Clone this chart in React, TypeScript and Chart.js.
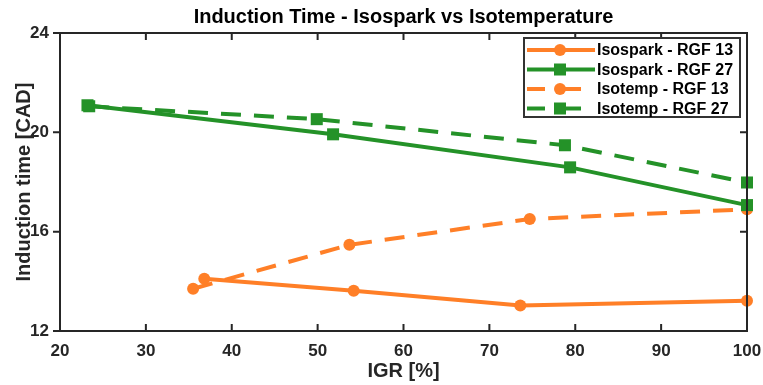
import React, { useEffect, useRef } from "react";
import { Chart, registerables } from "chart.js";

Chart.register(...registerables);

// IGR [%] and induction time [CAD] for each configuration
const isosparkRgf13X = [36.8, 54.2, 73.6, 100];
const isosparkRgf13Y = [14.1, 13.62, 13.03, 13.22];

const isosparkRgf27X = [23.2, 51.8, 79.4, 100];
const isosparkRgf27Y = [21.09, 19.92, 18.59, 17.07];

const isotempRgf13X = [35.5, 53.7, 74.7, 100];
const isotempRgf13Y = [13.7, 15.47, 16.51, 16.9];

const isotempRgf27X = [23.4, 49.9, 78.8, 100];
const isotempRgf27Y = [21.05, 20.53, 19.48, 17.98];

const xTicks = [20, 30, 40, 50, 60, 70, 80, 90, 100];
const yTicks = [12, 16, 20, 24];

const seriesLabels = [
  "Isospark - RGF 13",
  "Isospark - RGF 27",
  "Isotemp - RGF 13",
  "Isotemp - RGF 27",
];

const ORANGE = "#FF7F27";
const GREEN = "#249228";
const AXIS = "#262626";
const FONT = "'Liberation Sans', Arial, Helvetica, sans-serif";
const DASH = [20, 13];

const pts = (xs: number[], ys: number[]) => xs.map((x, i) => ({ x, y: ys[i] }));

// Frame, inward ticks, title and legend drawn on top of the plot
const decorPlugin = {
  id: "decor",
  afterDraw(chart: any) {
    const { ctx, chartArea: a, scales } = chart;
    const xs = scales.x;
    const ys = scales.y;
    ctx.save();
    ctx.strokeStyle = AXIS;
    ctx.lineWidth = 2;
    ctx.setLineDash([]);
    ctx.strokeRect(a.left, a.top, a.right - a.left, a.bottom - a.top);

    const tl = 7;
    ctx.beginPath();
    xTicks.forEach((v) => {
      const px = xs.getPixelForValue(v);
      ctx.moveTo(px, a.bottom);
      ctx.lineTo(px, a.bottom - tl);
      ctx.moveTo(px, a.top);
      ctx.lineTo(px, a.top + tl);
    });
    yTicks.forEach((v) => {
      const py = ys.getPixelForValue(v);
      ctx.moveTo(a.left, py);
      ctx.lineTo(a.left - tl, py);
      ctx.moveTo(a.right, py);
      ctx.lineTo(a.right - tl, py);
    });
    ctx.stroke();

    // title
    ctx.fillStyle = "#000";
    ctx.font = `bold 20px ${FONT}`;
    ctx.textAlign = "center";
    ctx.textBaseline = "middle";
    ctx.fillText(
      "Induction Time - Isospark vs Isotemperature",
      (a.left + a.right) / 2,
      17
    );

    // legend
    const bx = 524;
    const by = 38;
    const bw = 216;
    const bh = 79;
    ctx.fillStyle = "#fff";
    ctx.fillRect(bx, by, bw, bh);
    ctx.strokeStyle = "#333";
    ctx.lineWidth = 2;
    ctx.strokeRect(bx, by, bw, bh);

    chart.data.datasets.forEach((ds: any, i: number) => {
      const cy = by + 12 + i * 19.5;
      const x0 = bx + 3;
      const x1 = bx + 71;
      const mx = bx + 36;
      ctx.strokeStyle = ds.borderColor;
      ctx.lineWidth = 4;
      ctx.beginPath();
      if (ds.borderDash && ds.borderDash.length) {
        ctx.moveTo(x0, cy);
        ctx.lineTo(x0 + 18, cy);
        ctx.moveTo(x0 + 31, cy);
        ctx.lineTo(x1 - 14, cy);
      } else {
        ctx.moveTo(x0, cy);
        ctx.lineTo(x1, cy);
      }
      ctx.stroke();
      ctx.fillStyle = ds.borderColor;
      if (ds.pointStyle === "rect") {
        ctx.fillRect(mx - 6, cy - 6, 12, 12);
      } else {
        ctx.beginPath();
        ctx.arc(mx, cy, 6, 0, Math.PI * 2);
        ctx.fill();
      }
      ctx.fillStyle = "#000";
      ctx.font = `bold 16px ${FONT}`;
      ctx.textAlign = "left";
      ctx.textBaseline = "middle";
      ctx.fillText(ds.label, x1 + 2, cy + 1);
    });
    ctx.restore();
  },
};

export default function App() {
  const ref = useRef<HTMLCanvasElement | null>(null);

  useEffect(() => {
    if (!ref.current) return;
    const mk = (
      label: string,
      data: { x: number; y: number }[],
      color: string,
      style: string,
      dashed: boolean
    ) => ({
      label,
      data,
      borderColor: color,
      backgroundColor: color,
      borderWidth: 4,
      borderDash: dashed ? DASH : [],
      pointStyle: style,
      pointRadius: style === "rect" ? 8.5 : 6,
      pointBorderWidth: 0,
      pointBackgroundColor: color,
      showLine: true,
      tension: 0,
    });

    const chart = new Chart(ref.current, {
      type: "scatter",
      data: {
        datasets: [
          mk(seriesLabels[0], pts(isosparkRgf13X, isosparkRgf13Y), ORANGE, "circle", false),
          mk(seriesLabels[1], pts(isosparkRgf27X, isosparkRgf27Y), GREEN, "rect", false),
          mk(seriesLabels[2], pts(isotempRgf13X, isotempRgf13Y), ORANGE, "circle", true),
          mk(seriesLabels[3], pts(isotempRgf27X, isotempRgf27Y), GREEN, "rect", true),
        ] as any,
      },
      options: {
        responsive: false,
        animation: false,
        clip: false as any,
        layout: { padding: { top: 33, right: 16, left: 0, bottom: 0 } },
        plugins: {
          legend: { display: false },
          title: { display: false },
          tooltip: { enabled: false },
        },
        scales: {
          x: {
            type: "linear",
            min: 20,
            max: 100,
            afterFit: (s: any) => {
              s.height = 54;
              s.paddingLeft = 0;
              s.paddingRight = 0;
            },
            afterBuildTicks: (s: any) => {
              s.ticks = xTicks.map((v) => ({ value: v }));
            },
            grid: { display: false, drawTicks: false },
            border: { display: false },
            ticks: {
              padding: 10,
              color: AXIS,
              font: { family: FONT, size: 17, weight: "bold" },
              maxRotation: 0,
            },
            title: {
              display: true,
              text: "IGR [%]",
              color: AXIS,
              font: { family: FONT, size: 20, weight: "bold" },
              padding: { top: 0, bottom: 2 },
            },
          },
          y: {
            type: "linear",
            min: 12,
            max: 24,
            afterFit: (s: any) => {
              s.width = 60;
              s.paddingTop = 0;
              s.paddingBottom = 0;
            },
            afterBuildTicks: (s: any) => {
              s.ticks = yTicks.map((v) => ({ value: v }));
            },
            grid: { display: false, drawTicks: false },
            border: { display: false },
            ticks: {
              padding: 11,
              color: AXIS,
              font: { family: FONT, size: 17, weight: "bold" },
            },
            title: {
              display: true,
              text: "Induction time [CAD]",
              color: AXIS,
              font: { family: FONT, size: 20, weight: "bold" },
              padding: { top: 12, bottom: 0 },
            },
          },
        },
      },
      plugins: [decorPlugin],
    });
    return () => chart.destroy();
  }, []);

  return (
    <div style={{ position: "absolute", left: 0, top: 0, width: 763, height: 385, background: "#fff" }}>
      <canvas ref={ref} width={763} height={385} />
    </div>
  );
}
